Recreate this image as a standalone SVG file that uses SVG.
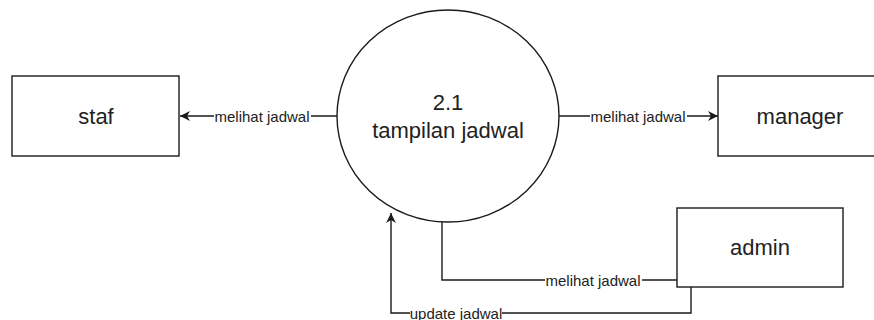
<svg xmlns="http://www.w3.org/2000/svg" width="874" height="320" viewBox="0 0 874 320">
<defs>
<style>
.box{fill:#fff;stroke:#1a1a1a;stroke-width:1.4}
.edge{fill:none;stroke:#1a1a1a;stroke-width:1.4}
.node{font-family:"Liberation Sans",Arial,sans-serif;font-size:22px;fill:#222;text-anchor:middle;dominant-baseline:central}
.lbl{font-family:"Liberation Sans",Arial,sans-serif;font-size:15px;fill:#222;text-anchor:middle;dominant-baseline:central}
.bg{fill:#fff}
</style>
<marker id="arr" viewBox="0 0 10 10" refX="10" refY="5" markerWidth="10" markerHeight="10" markerUnits="userSpaceOnUse" orient="auto">
<path d="M0,0 L10,5 L0,10 L3,5 Z" fill="#1a1a1a"/>
</marker>
</defs>
<rect width="874" height="320" fill="#fff"/>
<g id="connectors">
<line class="edge" x1="337" y1="116" x2="180" y2="116" marker-end="url(#arr)"/>
<rect class="bg" x="214" y="107" width="97" height="18"/>
<text class="lbl" x="262" y="116">melihat jadwal</text>
<line class="edge" x1="559" y1="116" x2="718" y2="116" marker-end="url(#arr)"/>
<rect class="bg" x="590" y="107" width="97" height="18"/>
<text class="lbl" x="638" y="116">melihat jadwal</text>
<polyline class="edge" points="442,220 442,280 677,280"/>
<rect class="bg" x="545" y="271" width="97" height="18"/>
<text class="lbl" x="593" y="280">melihat jadwal</text>
<polyline class="edge" points="691,287 691,313 391,313 391,213" marker-end="url(#arr)"/>
<rect class="bg" x="410" y="304" width="92" height="18"/>
<text class="lbl" x="456" y="313">update jadwal</text>
</g>
<g id="staf">
<rect class="box" x="12" y="76" width="167" height="80"/>
<text class="node" x="96" y="116">staf</text>
</g>
<g id="process">
<ellipse class="box" cx="448" cy="116" rx="111" ry="106"/>
<text class="node" x="448" y="102">2.1</text>
<text class="node" x="448" y="130">tampilan jadwal</text>
</g>
<g id="manager">
<rect class="box" x="718" y="76" width="164" height="80"/>
<text class="node" x="800" y="116">manager</text>
</g>
<g id="admin">
<rect class="box" x="677" y="208" width="166" height="79"/>
<text class="node" x="760" y="247">admin</text>
</g>
</svg>
